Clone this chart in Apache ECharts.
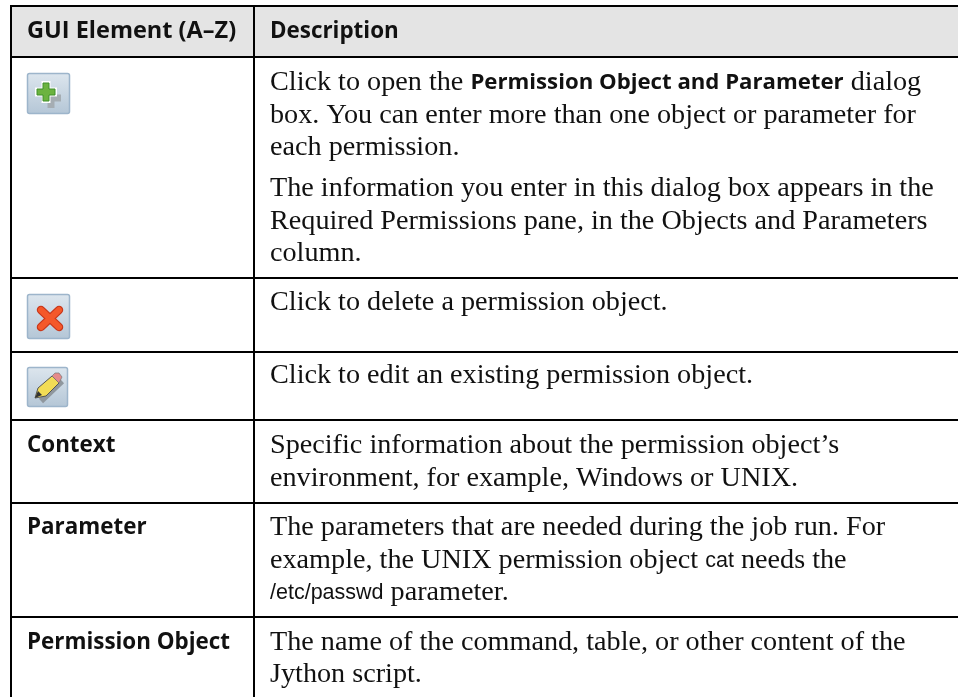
<!DOCTYPE html>
<html><head><meta charset="utf-8">
<style>html,body{margin:0;padding:0;background:#fff}#c{width:958px;height:697px}</style>
<script src="https://cdn.jsdelivr.net/npm/echarts@6/dist/echarts.min.js"></script>
</head><body><div id="c"></div>
<script>
const headerLabels = ['GUI Element (A–Z)', 'Description'];
const elementLabels = ['', '', '', 'Context', 'Parameter', 'Permission Object'];
const descriptionLines = [
  ['Click to open the {b|Permission Object and Parameter} dialog','box. You can enter more than one object or parameter for','each permission.'],
  ['The information you enter in this dialog box appears in the','Required Permissions pane, in the Objects and Parameters','column.'],
  ['Click to delete a permission object.'],
  ['Click to edit an existing permission object.'],
  ['Specific information about the permission object’s','environment, for example, Windows or UNIX.'],
  ['The parameters that are needed during the job run. For','example, the UNIX permission object {c|cat} needs the','{c|/etc/passwd} parameter.'],
  ['The name of the command, table, or other content of the','Jython script.']
];
const L=11,M=254,R=958,T=6,H=57;
const rowLines=[278,352,420,503,617];
const lineYs=[[83,116,148],[189,222,254],[303],[376],[446,479],[528,561,593],[643,675]];
const elemYs={3:446,4:528,5:643};
const headFont='"Open Sans"';
const g=[];
g.push({type:'rect',shape:{x:L,y:T,width:R-L,height:H-T},style:{fill:'#e4e4e4'}});
[[L,T,R,T],[L,H,R,H],...rowLines.map(y=>[L,y,R,y])].forEach(a=>g.push({type:'line',shape:{x1:a[0],y1:a[1],x2:a[2],y2:a[3]},style:{stroke:'#000',lineWidth:2}}));
[[L,5,L,697],[M,5,M,697]].forEach(a=>g.push({type:'line',shape:{x1:a[0],y1:a[1],x2:a[2],y2:a[3]},style:{stroke:'#000',lineWidth:2}}));
function t(x,y,text,font,size,weight,rich){g.push({type:'text',x:x,y:y,style:{text:text,fill:'#111',fontFamily:font,fontSize:size,fontWeight:weight,verticalAlign:'middle',rich:rich}});}
t(27,31,headerLabels[0],headFont,23.5,'700');
t(270,32,headerLabels[1],headFont,22.4,'700');
Object.keys(elemYs).forEach(i=>t(27,elemYs[i],elementLabels[i],headFont,22.4,'700'));
const rich={b:{fontFamily:headFont,fontWeight:700,fontSize:22.2,color:'#111'},c:{fontFamily:'"Liberation Sans"',fontSize:21.5,color:'#111'}};
descriptionLines.forEach((ls,i)=>ls.forEach((s,j)=>t(270,lineYs[i][j],s,'"Liberation Serif"',28.2,'400',rich)));
// icons
function btn(x,y,w,h){g.push({type:'rect',shape:{x:x,y:y,width:w,height:h,r:2},style:{fill:{type:'linear',x:0,y:0,x2:0,y2:1,colorStops:[{offset:0,color:'#dde6ee'},{offset:1,color:'#b4c6d6'}]},stroke:'#9db5cb',lineWidth:1.5}});}
const plus=(x,y,s,a)=>[[x+a,y],[x+s-a,y],[x+s-a,y+a],[x+s,y+a],[x+s,y+s-a],[x+s-a,y+s-a],[x+s-a,y+s],[x+a,y+s],[x+a,y+s-a],[x,y+s-a],[x,y+a],[x+a,y+a]];
btn(27.5,73.5,42,40);
g.push({type:'polygon',shape:{points:plus(41,88,20,6.5)},style:{fill:'#a5adb3'}});
g.push({type:'polygon',shape:{points:plus(36,82,20,6.5)},style:{fill:'#6cb33f',stroke:'#fff',lineWidth:2}});
g.push({type:'polygon',shape:{points:plus(37,83,18,6)},style:{fill:'#6cb33f',stroke:'#3f8f2a',lineWidth:1}});
btn(27.5,294.5,42,44);
[['#c8361a',8.5],['#f4582a',6]].forEach(c=>{
g.push({type:'line',shape:{x1:41,y1:310,x2:59,y2:327},style:{stroke:c[0],lineWidth:c[1],lineCap:'round'}});
g.push({type:'line',shape:{x1:59,y1:310,x2:41,y2:327},style:{stroke:c[0],lineWidth:c[1],lineCap:'round'}});});
btn(27.5,367.5,40,39);
g.push({type:'line',shape:{x1:41,y1:401,x2:62,y2:381},style:{stroke:'#8f979e',lineWidth:6}});
g.push({type:'polygon',shape:{points:[[35,398],[38,388],[52,376],[59,383],[46,396]]},style:{fill:'#f2dc55',stroke:'#555',lineWidth:1}});
g.push({type:'polygon',shape:{points:[[35,398],[38,391],[42,395]]},style:{fill:'#333'}});
g.push({type:'polygon',shape:{points:[[52,376],[55,373],[59,373],[62,377],[59,383]]},style:{fill:'#e58a8a',stroke:'#777',lineWidth:.7}});
const chart=echarts.init(document.getElementById('c'),null,{renderer:'canvas'});
chart.setOption({animation:false,graphic:{elements:g}});
</script></body></html>
